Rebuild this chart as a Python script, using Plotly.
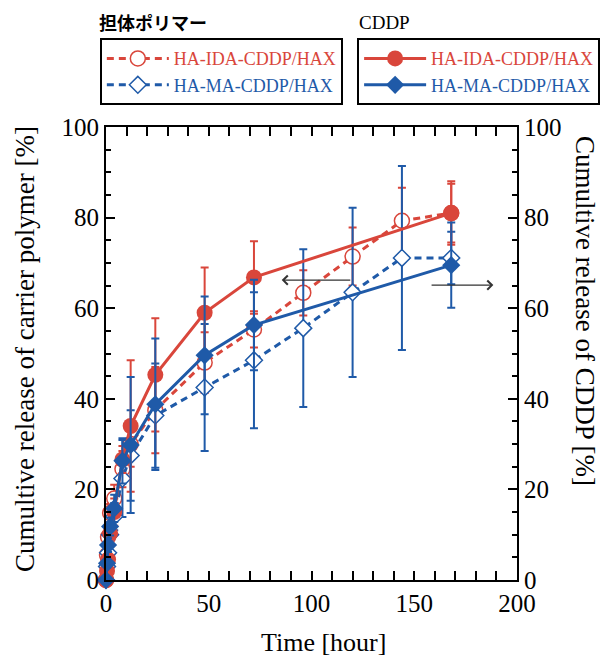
import plotly.graph_objects as go

# ---- data ----
t_poly = [0, 0.5, 1, 2, 4, 8, 12, 24, 48, 72, 96, 120, 144, 168]
poly_ida = [0, 5.5, 9.5, 14.8, 18.0, 24.5, 30.0, 37.5, 48.0, 55.3, 63.4, 71.4, 79.3, 81.0]
poly_ida_err = [0, 1, 1.5, 2, 3, 4, 5, 9.5, 6.7, 4.0, 5.0, 6.4, 7.3, 6.5]
poly_ma = [0, 3.0, 6.0, 10.0, 14.0, 22.4, 27.5, 36.3, 42.5, 48.5, 55.6, 63.5, 71.1, 71.1]
poly_ma_err = [0, 1, 1.5, 2, 3, 8.5, 10, 11.5, 14, 15, 17.4, 18.7, 20.3, 5.8]

t_cddp = [0, 0.5, 1, 2, 4, 8, 12, 24, 48, 72, 168]
cddp_ida = [0, 2.0, 4.5, 10.3, 15.0, 26.6, 34.0, 45.3, 59.0, 66.8, 81.0]
cddp_ida_err = [0, 1, 1.5, 2, 3, 3, 14.5, 12.5, 10.0, 8.0, 7.0]
cddp_ma = [0, 3.7, 7.7, 11.8, 15.8, 26.3, 29.8, 38.8, 49.6, 56.3, 69.5]
cddp_ma_err = [0, 1, 1.5, 2, 3, 5, 15, 14.5, 13, 10, 9.4]

name_ida = "HA-IDA-CDDP/HAX"
name_ma = "HA-MA-CDDP/HAX"
legend1_title = "担体ポリマー"
legend2_title = "CDDP"
x_title = "Time [hour]"
y_title = "Cumultive release of carrier polymer [%]"
y2_title = "Cumultive release of CDDP [%]"

RED = "#d9463b"
BLUE = "#1f5aa8"
SERIF = "Liberation Serif, Times New Roman, serif"

fig = go.Figure()

def colored(name, c):
    return f"<span style='color:{c}'>{name}</span>"

# carrier polymer (dashed, open markers, left axis)
fig.add_trace(go.Scatter(
    x=t_poly, y=poly_ida, name=colored(name_ida, RED), legend="legend",
    mode="lines+markers", cliponaxis=False,
    line=dict(color=RED, width=3, dash="7px,5px"),
    marker=dict(symbol="circle", size=15, color="white", line=dict(color=RED, width=1.5)),
    error_y=dict(type="data", array=poly_ida_err, color=RED, thickness=2, width=4),
))
fig.add_trace(go.Scatter(
    x=t_poly, y=poly_ma, name=colored(name_ma, BLUE), legend="legend",
    mode="lines+markers", cliponaxis=False,
    line=dict(color=BLUE, width=3, dash="7px,5px"),
    marker=dict(symbol="diamond", size=13, color="white", line=dict(color=BLUE, width=1.5)),
    error_y=dict(type="data", array=poly_ma_err, color=BLUE, thickness=2, width=4),
))
# CDDP (solid, filled markers, right axis)
fig.add_trace(go.Scatter(
    x=t_cddp, y=cddp_ida, name=colored(name_ida, RED), legend="legend2", yaxis="y2",
    mode="lines+markers", cliponaxis=False,
    line=dict(color=RED, width=3),
    marker=dict(symbol="circle", size=16, color=RED),
    error_y=dict(type="data", array=cddp_ida_err, color=RED, thickness=2, width=4),
))
fig.add_trace(go.Scatter(
    x=t_cddp, y=cddp_ma, name=colored(name_ma, BLUE), legend="legend2", yaxis="y2",
    mode="lines+markers", cliponaxis=False,
    line=dict(color=BLUE, width=3),
    marker=dict(symbol="diamond", size=14, color=BLUE),
    error_y=dict(type="data", array=cddp_ma_err, color=BLUE, thickness=2, width=4),
))

axis_common = dict(
    showline=True, linecolor="black", linewidth=2,
    ticks="inside", ticklen=9, tickwidth=2, tickcolor="black",
    tickfont=dict(family=SERIF, size=25, color="black"),
    showgrid=False, zeroline=False,
)

fig.update_layout(
    width=603, height=656,
    margin=dict(l=106, r=86, t=127, b=76, autoexpand=False),
    paper_bgcolor="white", plot_bgcolor="white",
    font=dict(family=SERIF, color="black"),
    xaxis=dict(range=[0, 200], dtick=50, mirror="allticks",
               minor=dict(dtick=10, ticks="inside", ticklen=5, tickwidth=1.5, tickcolor="black"),
               **axis_common),
    yaxis=dict(range=[0, 100], dtick=20,
               minor=dict(dtick=5, ticks="inside", ticklen=5, tickwidth=1.5, tickcolor="black"),
               **axis_common),
    yaxis2=dict(range=[0, 100], dtick=20, overlaying="y", side="right",
                minor=dict(dtick=5, ticks="inside", ticklen=5, tickwidth=1.5, tickcolor="black"),
                **axis_common),
    showlegend=True,
    legend=dict(x=-0.015, y=1.196, xanchor="left", yanchor="top",
                bordercolor="black", borderwidth=2, bgcolor="white",
                font=dict(family=SERIF, size=18), itemwidth=62, tracegroupgap=0),
    legend2=dict(x=0.611, y=1.196, xanchor="left", yanchor="top",
                 bordercolor="black", borderwidth=2, bgcolor="white",
                 font=dict(family=SERIF, size=18), itemwidth=62, tracegroupgap=0),
)

# legend titles (outside the boxes)
fig.add_annotation(text=f"<b>{legend1_title}</b>", xref="paper", yref="paper",
                   x=-0.022, y=1.231, xanchor="left", yanchor="middle", showarrow=False,
                   font=dict(family="Noto Sans CJK JP", size=18, color="black"))
fig.add_annotation(text=legend2_title, xref="paper", yref="paper",
                   x=0.61, y=1.231, xanchor="left", yanchor="middle", showarrow=False,
                   font=dict(family=SERIF, size=19, color="black"))

# axis titles
fig.add_annotation(text=x_title, xref="paper", yref="paper", x=0.528, y=-0.137,
                   xanchor="center", yanchor="middle", showarrow=False,
                   font=dict(family=SERIF, size=26, color="black"))
fig.add_annotation(text=y_title, xref="paper", yref="paper", x=-0.197, y=0.51,
                   xanchor="center", yanchor="middle", showarrow=False, textangle=-90,
                   font=dict(family=SERIF, size=27, color="black"))
fig.add_annotation(text=y2_title, xref="paper", yref="paper", x=1.165, y=0.594,
                   xanchor="center", yanchor="middle", showarrow=False, textangle=90,
                   font=dict(family=SERIF, size=27, color="black"))

# axis-indicating arrows
fig.add_annotation(x=85.5, y=66.2, ax=119.6, ay=66.2, xref="x", yref="y", axref="x", ayref="y",
                   showarrow=True, arrowhead=4, arrowsize=1.5, arrowwidth=1.2, arrowcolor="#333", text="")
fig.add_annotation(x=188.5, y=65.1, ax=157.7, ay=65.1, xref="x", yref="y", axref="x", ayref="y",
                   showarrow=True, arrowhead=4, arrowsize=1.5, arrowwidth=1.2, arrowcolor="#333", text="")

fig.write_html("out.html", config={"displayModeBar": False},
               post_script="document.body.style.margin='0';document.body.style.overflow='hidden';")
